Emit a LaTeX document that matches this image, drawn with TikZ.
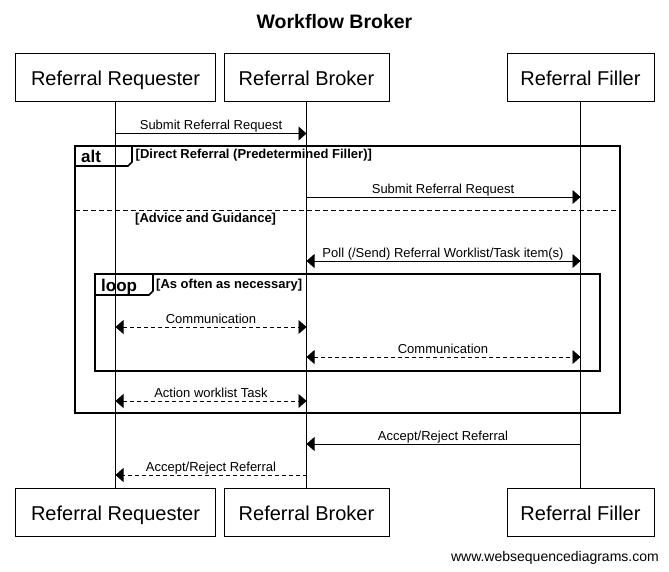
\documentclass[tikz,border=0pt]{standalone}
\usepackage{fontspec}
\setmainfont{Liberation Sans}
\usetikzlibrary{arrows.meta}
\begin{document}
\begin{tikzpicture}[x=1pt,y=-1pt,
  part/.style={draw,line width=0.9pt,minimum height=48pt,inner sep=0pt,text height=18pt,text depth=2pt,font=\fontsize{20}{24}\selectfont},
  life/.style={line width=0.8pt},
  tipx/.tip={Triangle[length=8pt,width=14pt]},
  sync/.style={line width=0.9pt,-tipx},
  syncb/.style={line width=0.9pt,tipx-tipx},
  ret/.style={line width=0.9pt,dash pattern=on 4pt off 3pt,-tipx},
  retb/.style={line width=0.9pt,dash pattern=on 4pt off 3pt,tipx-tipx},
  lbl/.style={font=\fontsize{13}{15}\selectfont,inner sep=0pt,anchor=base},
  frame/.style={line width=1.7pt},
  cond/.style={font=\bfseries\fontsize{13}{15}\selectfont,inner sep=0pt,anchor=base west},
  op/.style={font=\bfseries\fontsize{17}{19}\selectfont,inner sep=0pt,anchor=base west}
]
\useasboundingbox (0,0) rectangle (669,571);
\node[font=\bfseries\fontsize{19.5}{22}\selectfont] (title) at (334.5,22) {Workflow Broker};
% participants
\node[part,minimum width=200pt] (reqT) at (115.5,77.5) {Referral Requester};
\node[part,minimum width=165pt] (broT) at (306.5,77.5) {Referral Broker};
\node[part,minimum width=147pt] (filT) at (580.5,77.5) {Referral Filler};
\node[part,minimum width=200pt] (reqB) at (115.5,512.5) {Referral Requester};
\node[part,minimum width=165pt] (broB) at (306.5,512.5) {Referral Broker};
\node[part,minimum width=147pt] (filB) at (580.5,512.5) {Referral Filler};
\draw[life] (reqT) -- (reqB);
\draw[life] (broT) -- (broB);
\draw[life] (filT) -- (filB);
% message rows
\coordinate (m1) at (0,133.5);
\coordinate (m2) at (0,197);
\coordinate (m3) at (0,261);
\coordinate (m4) at (0,327);
\coordinate (m5) at (0,357);
\coordinate (m6) at (0,401);
\coordinate (m7) at (0,444);
\coordinate (m8) at (0,475);
% alt frame
\draw[frame] (75,146) rectangle (620,413);
\draw[frame] (75,166) -- (128,166) -- (132,162) -- (132,146);
\node[op] (altl) at (81,162) {alt};
\node[cond] (c1) at (135.5,158.5) {[Direct Referral (Predetermined Filler)]};
\draw[line width=1.3pt,dash pattern=on 5pt off 3pt] (75,210.5) -- (620,210.5);
\node[cond] (c2) at (135,222) {[Advice and Guidance]};
% loop frame
\draw[frame] (95,274) rectangle (600,371);
\draw[frame] (95,295) -- (149,295) -- (153,291) -- (153,274);
\node[op] (loopl) at (101,291) {loop};
\node[cond] (c3) at (156,288) {[As often as necessary]};
% messages
\draw[sync] (reqT |- m1) -- (broT |- m1);
\node[lbl] (l1) at (211,129) {Submit Referral Request};
\draw[sync] (broT |- m2) -- (filT |- m2);
\node[lbl] (l2) at (443,193) {Submit Referral Request};
\draw[syncb] (broT |- m3) -- (filT |- m3);
\node[lbl] (l3) at (443,257) {Poll (/Send) Referral Worklist/Task item(s)};
\draw[retb] (reqT |- m4) -- (broT |- m4);
\node[lbl] (l4) at (211,323) {Communication};
\draw[retb] (broT |- m5) -- (filT |- m5);
\node[lbl] (l5) at (443,353) {Communication};
\draw[retb] (reqT |- m6) -- (broT |- m6);
\node[lbl] (l6) at (211,397) {Action worklist Task};
\draw[sync] (filT |- m7) -- (broT |- m7);
\node[lbl] (l7) at (443,440) {Accept/Reject Referral};
\draw[ret] (broT |- m8) -- (reqT |- m8);
\node[lbl] (l8) at (211,471) {Accept/Reject Referral};
\node[font=\fontsize{14}{16}\selectfont,inner sep=0pt,anchor=base east] (www) at (659,561) {www.websequencediagrams.com};
\end{tikzpicture}
\end{document}
